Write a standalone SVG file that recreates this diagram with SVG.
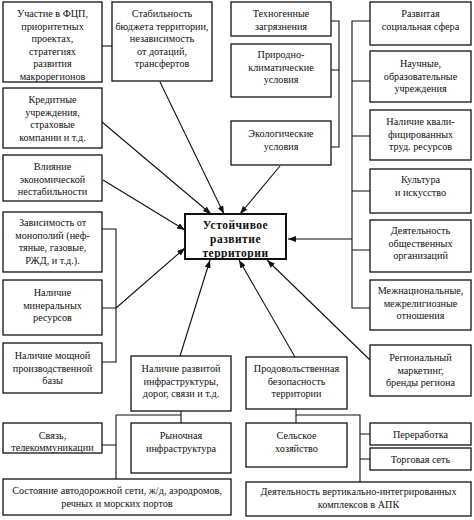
<svg xmlns="http://www.w3.org/2000/svg" width="474" height="520" viewBox="0 0 474 520">
<style>
rect{fill:#fff;stroke:#111;stroke-width:1.3}
text{font-family:'Liberation Serif','Times New Roman',serif;font-size:10.2px;fill:#111;text-anchor:middle}
.c{fill:none;stroke:#111;stroke-width:1.1}
.a{marker-end:url(#ah)}
#center rect{stroke-width:2}
#center text{font-weight:bold;font-size:11.5px;letter-spacing:0.5px}
</style>
<defs>
<marker id="ah" markerWidth="8" markerHeight="6" refX="8" refY="3" orient="auto" markerUnits="userSpaceOnUse">
<path d="M0,0 L8,3 L0,6 Z" fill="#111"/>
</marker>
</defs>
<rect x="0" y="0" width="474" height="520" style="fill:#fff;stroke:none"/>
<g id="connectors">
<path class="c" d="M102,46H112"/>
<path class="c" d="M331,21H339V147H331M331,70H339"/>
<path class="c" d="M370,21H352V308H370M352,81H370M352,136H370M352,191H370M352,250H370"/>
<path class="c a" d="M352,239H288"/>
<path class="c" d="M102,229H116V362H102M102,308H116"/>
<path class="c a" d="M116,308L185,248"/>
<path class="c a" d="M102,122L211,214"/>
<path class="c a" d="M160,82L224,214"/>
<path class="c a" d="M103,180L185,230"/>
<path class="c a" d="M280,166L240,214"/>
<path class="c a" d="M180,356L210,260"/>
<path class="c a" d="M295,357L239,260"/>
<path class="c a" d="M370,360L267,260"/>
<path class="c" d="M181,411V423M116,415H181M116,415V479M102,445H116"/>
<path class="c" d="M296,409V423M296,415H360V482M360,434H370M360,459H370"/>
</g>
<g id="n1"><rect x="3" y="2" width="99" height="80"/><text x="52.5" y="17">Участие в ФЦП,</text><text x="52.5" y="29.5">приоритетных</text><text x="52.5" y="42">проектах,</text><text x="52.5" y="54.5">стратегиях</text><text x="52.5" y="67">развития</text><text x="52.5" y="79.5">макрорегионов</text></g>
<g id="n2"><rect x="112" y="2" width="100" height="79"/><text x="162" y="17">Стабильность</text><text x="162" y="29.5">бюджета территории,</text><text x="162" y="42">независимость</text><text x="162" y="54.5">от дотаций,</text><text x="162" y="67">трансфертов</text></g>
<g id="n3"><rect x="231" y="2" width="100" height="34"/><text x="281" y="17">Техногенные</text><text x="281" y="29.5">загрязнения</text></g>
<g id="n4"><rect x="231" y="44" width="100" height="53"/><text x="281" y="58">Природно-</text><text x="281" y="70.5">климатические</text><text x="281" y="83">условия</text></g>
<g id="n5"><rect x="231" y="121" width="100" height="44"/><text x="281" y="137">Экологические</text><text x="281" y="149.5">условия</text></g>
<g id="n6"><rect x="370" y="2" width="101" height="43"/><text x="420.5" y="17">Развитая</text><text x="420.5" y="29.5">социальная сфера</text></g>
<g id="n7"><rect x="370" y="51" width="101" height="51"/><text x="420.5" y="67">Научные,</text><text x="420.5" y="79.5">образовательные</text><text x="420.5" y="92">учреждения</text></g>
<g id="n8"><rect x="370" y="110" width="101" height="50"/><text x="420.5" y="125">Наличие квали-</text><text x="420.5" y="137.5">фицированных</text><text x="420.5" y="150">труд. ресурсов</text></g>
<g id="n9"><rect x="370" y="169" width="101" height="44"/><text x="420.5" y="183">Культура</text><text x="420.5" y="196">и искусство</text></g>
<g id="n10"><rect x="370" y="220" width="101" height="52"/><text x="420.5" y="234">Деятельность</text><text x="420.5" y="246.5">общественных</text><text x="420.5" y="259">организаций</text></g>
<g id="n11"><rect x="370" y="280" width="101" height="50"/><text x="420.5" y="294">Межнациональные,</text><text x="420.5" y="306.5">межрелигиозные</text><text x="420.5" y="319">отношения</text></g>
<g id="n12"><rect x="370" y="345" width="101" height="51"/><text x="420.5" y="361">Региональный</text><text x="420.5" y="373.5">маркетинг,</text><text x="420.5" y="386">бренды региона</text></g>
<g id="n13"><rect x="3" y="88" width="99" height="60"/><text x="52.5" y="103">Кредитные</text><text x="52.5" y="115.5">учреждения,</text><text x="52.5" y="128">страховые</text><text x="52.5" y="140.5">компании и т.д.</text></g>
<g id="n14"><rect x="3" y="155" width="99" height="46"/><text x="52.5" y="170">Влияние</text><text x="52.5" y="182.5">экономической</text><text x="52.5" y="195">нестабильности</text></g>
<g id="n15"><rect x="3" y="212" width="99" height="60"/><text x="52.5" y="226">Зависимость от</text><text x="52.5" y="238.5">монополий (неф-</text><text x="52.5" y="251">тяные, газовые,</text><text x="52.5" y="263.5">РЖД, и т.д.).</text></g>
<g id="n16"><rect x="3" y="280" width="99" height="55"/><text x="52.5" y="296">Наличие</text><text x="52.5" y="308.5">минеральных</text><text x="52.5" y="321">ресурсов</text></g>
<g id="n17"><rect x="3" y="343" width="99" height="50"/><text x="52.5" y="359">Наличие мощной</text><text x="52.5" y="371.5">производственной</text><text x="52.5" y="384">базы</text></g>
<g id="center"><rect x="185" y="214" width="101" height="45"/><text x="235.5" y="229">Устойчивое</text><text x="235.5" y="243">развитие</text><text x="235.5" y="257">территории</text></g>
<g id="n18"><rect x="131" y="356" width="100" height="55"/><text x="181" y="372">Наличие развитой</text><text x="181" y="384.5">инфраструктуры,</text><text x="181" y="397">дорог, связи и т.д.</text></g>
<g id="n19"><rect x="246" y="357" width="101" height="52"/><text x="296.5" y="372">Продовольственная</text><text x="296.5" y="384.5">безопасность</text><text x="296.5" y="397">территории</text></g>
<g id="n20"><rect x="3" y="423" width="99" height="30"/><text x="52.5" y="439">Связь,</text><text x="52.5" y="451">телекоммуникации</text></g>
<g id="n21"><rect x="131" y="423" width="100" height="50"/><text x="181" y="439">Рыночная</text><text x="181" y="451.5">инфраструктура</text></g>
<g id="n22"><rect x="3" y="479" width="228" height="36"/><text x="117" y="494">Состояние автодорожной сети, ж/д, аэродромов,</text><text x="117" y="506.5">речных и морских портов</text></g>
<g id="n23"><rect x="246" y="423" width="101" height="44"/><text x="296.5" y="439">Сельское</text><text x="296.5" y="451.5">хозяйство</text></g>
<g id="n24"><rect x="370" y="423" width="101" height="22"/><text x="420.5" y="438">Переработка</text></g>
<g id="n25"><rect x="370" y="448" width="101" height="22"/><text x="420.5" y="463">Торговая сеть</text></g>
<g id="n26"><rect x="246" y="482" width="225" height="34"/><text x="358.5" y="495">Деятельность вертикально-интегрированных</text><text x="358.5" y="507.5">комплексов в АПК</text></g>
</svg>
